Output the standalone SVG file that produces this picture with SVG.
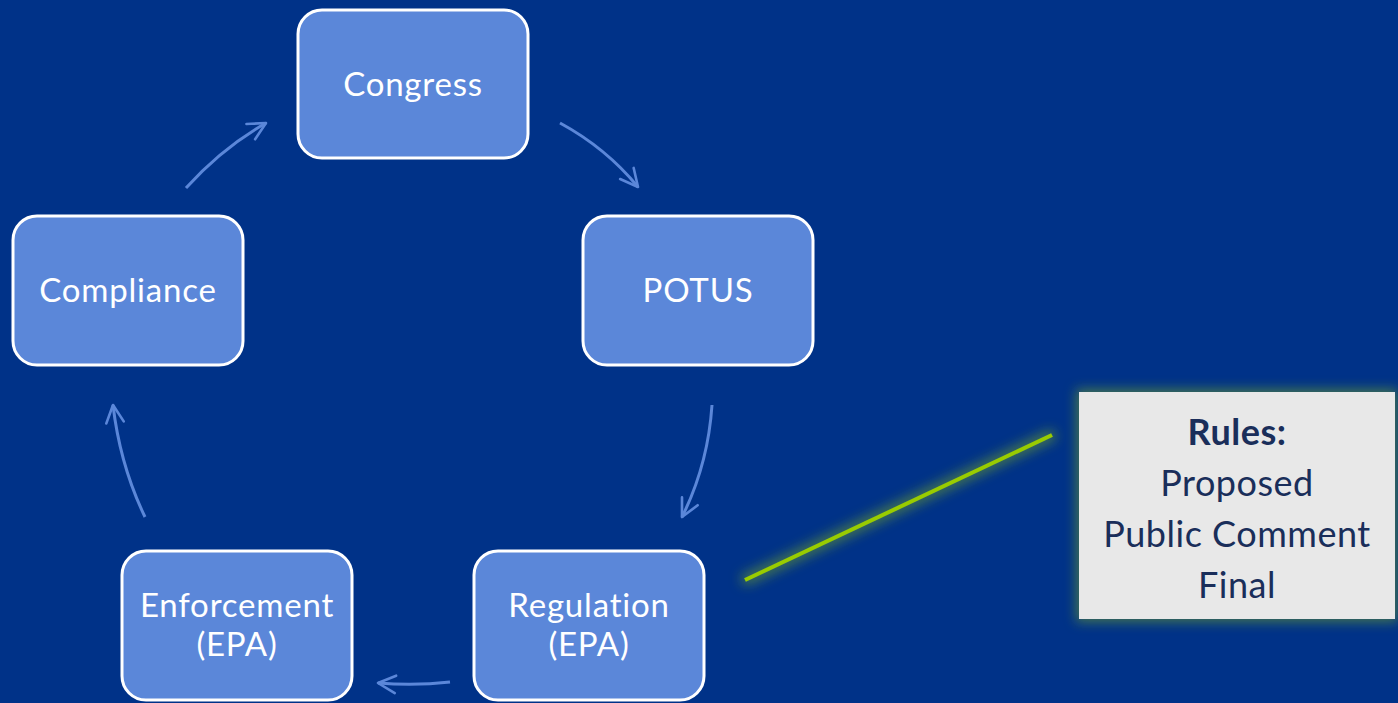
<svg xmlns="http://www.w3.org/2000/svg" width="1398" height="703" viewBox="0 0 1398 703">
<style>
.node rect{fill:#5B87D9;stroke:#FFFFFF;stroke-width:3}
.node text{fill:#FFFFFF;font-family:Lato,"Liberation Sans",sans-serif;font-size:33px;letter-spacing:0.8px;text-anchor:middle}
.conn path{fill:none;stroke:#5B87D9;stroke-width:3;marker-end:url(#arr)}
.callout text{fill:#1A2E5A;font-family:Lato,"Liberation Sans",sans-serif;font-size:36px;letter-spacing:0.5px;text-anchor:middle}
</style>
<defs>
<marker id="arr" viewBox="0 0 12 12" refX="11" refY="6" markerWidth="7" markerHeight="7" orient="auto" markerUnits="strokeWidth">
<path d="M1,1 L11,6 L1,11" fill="none" stroke="#5B87D9" stroke-width="1.5" stroke-linecap="round" stroke-linejoin="round"/>
</marker>
<filter id="glow" x="-20%" y="-20%" width="140%" height="140%">
<feMorphology in="SourceAlpha" operator="dilate" radius="3" result="d"/>
<feGaussianBlur in="d" stdDeviation="6" result="b"/>
<feFlood flood-color="#6FA02A" flood-opacity="0.6"/>
<feComposite in2="b" operator="in" result="g"/>
<feMerge><feMergeNode in="g"/><feMergeNode in="SourceGraphic"/></feMerge>
</filter>
</defs>
<rect x="0" y="0" width="1398" height="703" fill="#003288"/>
<g class="conn" id="connectors">
<path d="M560,123 Q606,148 638,187"/>
<path d="M712,405 Q708,465 682,517"/>
<path d="M450,682 Q415,686 378,683"/>
<path d="M145,517 Q120,465 113,405"/>
<path d="M186,188 Q222,148 266,123"/>
</g>
<g class="node" id="congress"><rect x="298" y="10" width="230" height="148" rx="24"/><text x="413" y="96">Congress</text></g>
<g class="node" id="potus"><rect x="583" y="216" width="230" height="149" rx="24"/><text x="698" y="302">POTUS</text></g>
<g class="node" id="regulation"><rect x="474" y="551" width="230" height="149" rx="24"/><text x="589" y="617">Regulation</text><text x="589" y="656">(EPA)</text></g>
<g class="node" id="enforcement"><rect x="122" y="551" width="230" height="149" rx="24"/><text x="237" y="617">Enforcement</text><text x="237" y="656">(EPA)</text></g>
<g class="node" id="compliance"><rect x="13" y="216" width="230" height="149" rx="24"/><text x="128" y="302">Compliance</text></g>
<g id="callout-line"><line x1="745" y1="580" x2="1052" y2="435" stroke="#99CC00" stroke-width="4" filter="url(#glow)"/></g>
<g class="callout" id="rules">
<rect x="1079" y="392" width="316" height="227" fill="#E8E8E8" filter="url(#glow)"/>
<text x="1237" y="445" font-weight="bold">Rules:</text>
<text x="1237" y="496">Proposed</text>
<text x="1237" y="547">Public Comment</text>
<text x="1237" y="598">Final</text>
</g>
</svg>
